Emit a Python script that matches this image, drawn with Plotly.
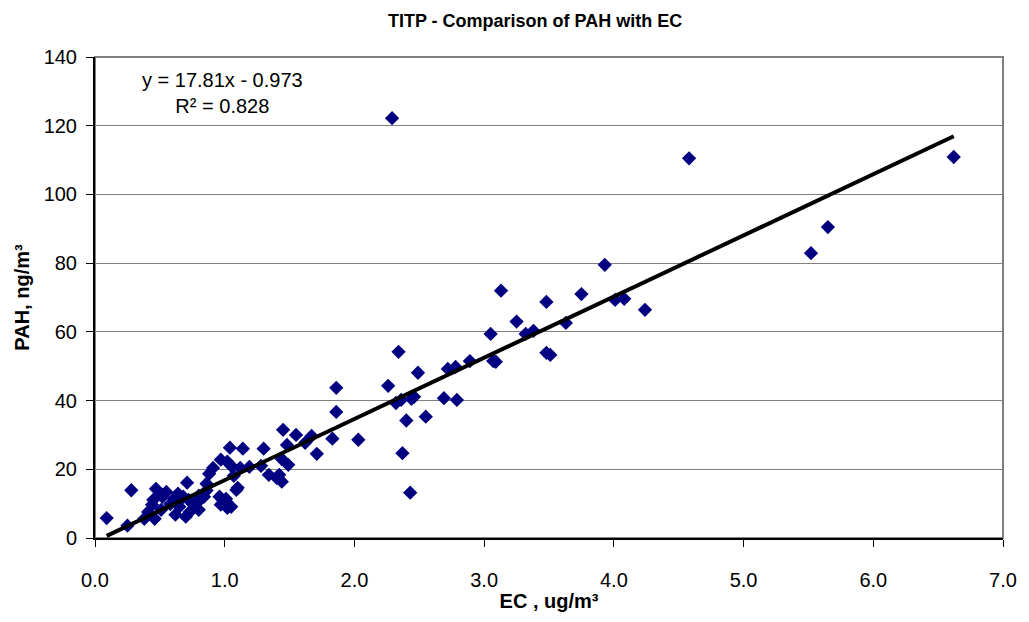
import plotly.graph_objects as go

ec = [0.09, 0.28, 0.25, 2.29, 4.58, 6.62, 5.65, 5.52, 3.93, 3.13, 3.75, 4.01, 4.08, 4.24,
      3.25, 3.63, 3.48, 3.38, 3.32, 3.05, 3.07, 3.09, 3.48, 3.51, 2.89, 2.78, 2.72, 2.34,
      2.49, 2.26, 1.86, 1.86, 2.79, 2.69, 2.36, 2.32, 2.44, 2.46, 2.40, 2.55, 2.37, 2.43,
      2.03, 1.83, 1.67, 1.71, 1.62, 1.55, 1.45, 1.48, 1.44, 1.49, 1.42, 1.44, 1.40, 1.30,
      1.14, 1.04, 1.34, 1.28, 1.19, 1.12, 1.05, 1.02, 0.97, 0.91, 1.09, 1.07, 1.01, 1.05,
      1.02, 0.97, 0.96, 0.88, 0.86, 0.81, 0.80, 0.77, 0.72, 0.71, 0.73, 0.70, 0.65, 0.61,
      0.62, 0.58, 0.52, 0.51, 0.47, 0.45, 0.44, 0.46, 0.41, 0.38, 0.55, 0.50, 0.80, 0.84,
      0.68, 0.64, 0.86, 1.10]
pah = [5.8, 13.9, 3.6, 122.2, 110.5, 110.9, 90.5, 82.9, 79.5, 72.0, 71.0, 69.3, 69.6, 66.4,
       63.0, 62.6, 68.7, 60.3, 59.4, 59.4, 51.5, 51.3, 53.9, 53.3, 51.5, 49.8, 49.2, 54.2,
       48.1, 44.3, 43.7, 36.7, 40.2, 40.7, 40.2, 39.3, 40.5, 41.1, 34.2, 35.3, 24.7, 13.2,
       28.6, 28.9, 29.7, 24.5, 27.7, 30.0, 31.5, 27.1, 23.0, 21.3, 18.4, 16.4, 17.5, 26.0,
       26.0, 26.3, 18.4, 21.0, 20.7, 20.4, 21.0, 22.2, 22.8, 20.4, 14.0, 18.1, 11.4, 9.1,
       8.8, 9.7, 12.0, 18.7, 13.8, 11.1, 8.2, 9.7, 11.1, 16.1, 7.6, 6.2, 9.1, 11.4,
       6.8, 9.9, 12.0, 8.2, 14.3, 11.1, 9.7, 5.6, 7.6, 5.6, 13.4, 12.9, 12.3, 12.0,
       12.0, 12.9, 15.8, 14.6]

slope = 17.81
intercept = -0.973
r2 = 0.828
x_ticks = [0, 1, 2, 3, 4, 5, 6, 7]
x_tick_labels = ["0.0", "1.0", "2.0", "3.0", "4.0", "5.0", "6.0", "7.0"]
y_ticks = [0, 20, 40, 60, 80, 100, 120, 140]

FONT = "Liberation Sans, Arial, sans-serif"

trend_x = [min(ec), max(ec)]
trend_y = [slope * v + intercept for v in trend_x]

fig = go.Figure()
fig.add_trace(go.Scatter(x=ec, y=pah, mode="markers",
                         marker=dict(symbol="diamond", size=11, color="#000080",
                                     line=dict(width=0)),
                         showlegend=False, cliponaxis=False))
fig.add_trace(go.Scatter(x=trend_x, y=trend_y, mode="lines",
                         line=dict(color="black", width=4), showlegend=False))

fig.add_shape(type="rect", xref="paper", yref="paper", x0=0, y0=0, x1=1, y1=1,
              line=dict(color="#808080", width=2), layer="below")

fig.add_annotation(xref="x", yref="y", x=0.98, y=137.2,
                   text=f"y = {slope}x - {abs(intercept)}<br>R² = {r2}",
                   showarrow=False, align="center", yanchor="top",
                   font=dict(family=FONT, size=20, color="black"))

fig.update_layout(
    width=1029, height=622,
    margin=dict(l=95, r=22, t=57, b=84),
    paper_bgcolor="white", plot_bgcolor="white",
    title=dict(text="<b>TITP - Comparison of PAH with EC</b>", x=0.52, xanchor="center",
               y=0.966, yanchor="middle", font=dict(family=FONT, size=18, color="black")),
    font=dict(family=FONT, color="black"),
    xaxis=dict(range=[0, 7], tickvals=x_ticks, ticktext=x_tick_labels,
               showgrid=False, zeroline=False, showline=True, linecolor="black",
               linewidth=2, ticks="outside", ticklen=7, tickcolor="black",
               ticklabelstandoff=16, tickfont=dict(size=20, family=FONT),
               title=dict(text="<b>EC , ug/m³</b>", standoff=4,
                          font=dict(size=20, family=FONT))),
    yaxis=dict(range=[0, 140], tickvals=y_ticks, showgrid=True, gridcolor="#808080",
               gridwidth=1, zeroline=False, showline=True, linecolor="black",
               linewidth=2, ticks="outside", ticklen=7, tickcolor="black",
               ticklabelstandoff=5, tickfont=dict(size=20, family=FONT),
               title=dict(text="<b>PAH, ng/m³</b>", standoff=9,
                          font=dict(size=20, family=FONT))),
)

fig.write_html("out.html")
